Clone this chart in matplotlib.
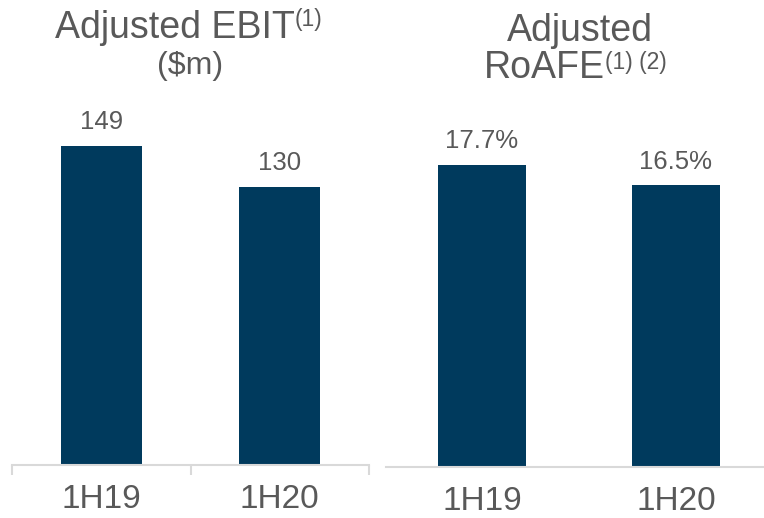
import matplotlib
matplotlib.use("Agg")
import matplotlib.pyplot as plt

plt.rcParams['font.family'] = ['Liberation Sans', 'DejaVu Sans']

periods = ["1H19", "1H20"]
ebit = [149, 130]
roafe = [17.7, 16.5]

navy = "#003A5D"
grey = "#595959"
axis_grey = "#D9D9D9"

W, H = 764, 518
fig = plt.figure(figsize=(W / 100, H / 100), dpi=100)


def px(x, y):
    return x / W, 1 - y / H


# left panel
ax1 = fig.add_axes([12 / W, 1 - 465 / H, 357 / W, 365 / H])
ax1.bar(range(2), ebit, width=0.455, color=navy)
ax1.set_xlim(-0.5, 1.5)
ax1.set_ylim(0, 170.6)
for i, v in enumerate(ebit):
    ax1.annotate(str(v), (i, v), xytext=(0, 12.5), textcoords="offset points",
                 ha="center", va="baseline", fontsize=18.5, color=grey)
ax1.set_xticks(range(2))
ax1.set_xticklabels(periods)
ax1.set_xticks([-0.5, 0.5, 1.5], minor=True)
ax1.tick_params(axis="x", which="major", length=0, pad=14, labelsize=24, labelcolor=grey)
ax1.tick_params(axis="x", which="minor", length=7, width=1.5, color=axis_grey)

# right panel
ax2 = fig.add_axes([386 / W, 1 - 467 / H, 378 / W, 367 / H])
ax2.bar(range(2), roafe, width=0.45, color=navy)
ax2.set_xlim(-0.495, 1.454)
ax2.set_ylim(0, 21.5)
for i, v in enumerate(roafe):
    ax2.annotate(f"{v:.1f}%", (i, v), xytext=(0, 12), textcoords="offset points",
                 ha="center", va="baseline", fontsize=18.5, color=grey)
ax2.set_xticks(range(2))
ax2.set_xticklabels(periods)
ax2.tick_params(axis="x", which="major", length=0, pad=14, labelsize=24, labelcolor=grey)

for ax in (ax1, ax2):
    ax.set_yticks([])
    for s in ("top", "right", "left"):
        ax.spines[s].set_visible(False)
    ax.spines["bottom"].set_color(axis_grey)
    ax.spines["bottom"].set_linewidth(1.5)
    ax.patch.set_alpha(0)

# titles
fig.text(*px(295, 38), "Adjusted EBIT", ha="right", va="baseline", fontsize=27, color=grey)
fig.text(*px(295, 26), "(1)", ha="left", va="baseline", fontsize=16.5, color=grey)
fig.text(*px(190, 74), "($m)", ha="center", va="baseline", fontsize=23, color=grey)

fig.text(*px(580, 41), "Adjusted", ha="center", va="baseline", fontsize=27, color=grey)
fig.text(*px(605, 78), "RoAFE", ha="right", va="baseline", fontsize=27, color=grey)
fig.text(*px(605, 69), "(1) (2)", ha="left", va="baseline", fontsize=16.5, color=grey)

fig.savefig("out.png", dpi=100)
